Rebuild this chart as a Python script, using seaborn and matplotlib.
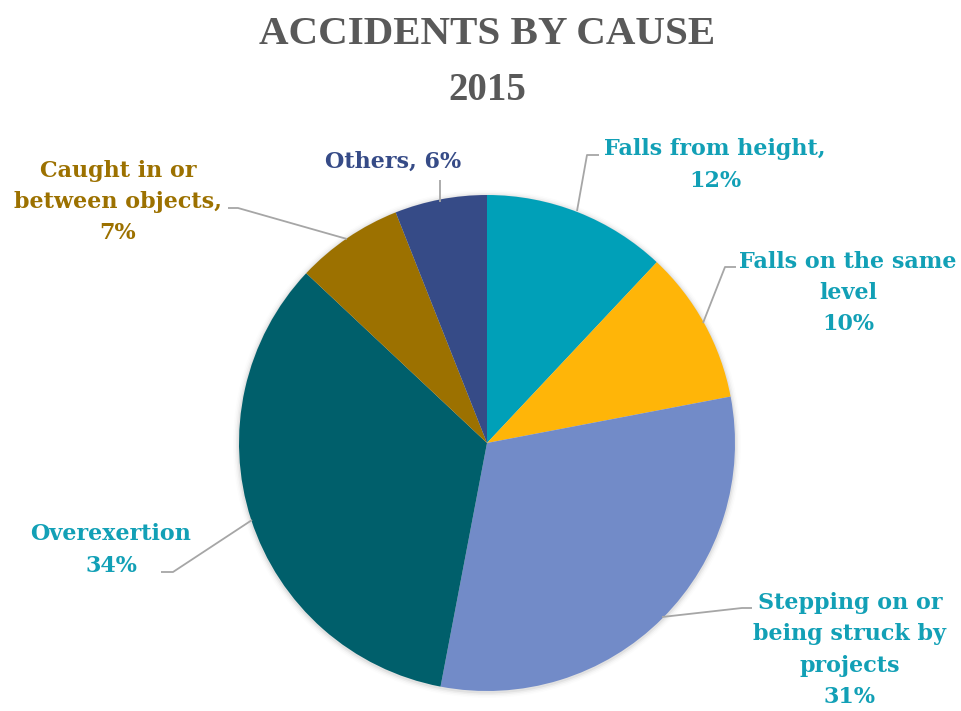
import matplotlib
matplotlib.use("Agg")
import matplotlib.pyplot as plt
import seaborn as sns
from matplotlib.patches import Circle

# Data
causes = [
    "Falls from height",
    "Falls on the same level",
    "Stepping on or being struck by projects",
    "Overexertion",
    "Caught in or between objects",
    "Others",
]
shares = [12, 10, 31, 34, 7, 6]
slice_colors = ["#00A0B8", "#FFB508", "#728BC8", "#005F6B", "#9C7100", "#364B87"]
label_texts = [
    "Falls from height,\n{}%",
    "Falls on the same\nlevel\n{}%",
    "Stepping on or\nbeing struck by\nprojects\n{}%",
    "Overexertion\n{}%",
    "Caught in or\nbetween objects,\n{}%",
    "Others, {}%",
]
label_colors = ["#12A0B6", "#12A0B6", "#12A0B6", "#12A0B6", "#9C7100", "#364B87"]

sns.set_theme(style="white")
plt.rcParams["font.family"] = ["Liberation Serif", "DejaVu Serif"]

W, H = 962, 711
fig = plt.figure(figsize=(W / 100, H / 100), dpi=100)
ax = fig.add_axes([0, 0, 1, 1])

cx, cy, r = 487, H - 443, 248
palette = sns.color_palette(slice_colors)

# soft halo around the pie
for i, a in enumerate([0.05, 0.035, 0.02, 0.01]):
    ax.add_patch(Circle((cx, cy - 1), r + 1.5 + i * 1.5, color="black", alpha=a, lw=0, zorder=0))

wedges, _ = ax.pie(
    shares,
    colors=palette,
    startangle=90,
    counterclock=False,
    center=(cx, cy),
    radius=r,
    frame=True,
    wedgeprops=dict(linewidth=0),
)
ax.set_xlim(0, W)
ax.set_ylim(0, H)
ax.set_aspect("equal")
ax.axis("off")

# label anchors (x, y from top) and leader polylines
label_pos = [(715, 165), (848, 293), (850, 650), (111, 550), (118, 202), (393, 162)]
leaders = [
    [(577, 211), (587, 155), (599, 155)],
    [(703, 323), (725, 267), (736, 267)],
    [(662, 617), (742, 608), (752, 608)],
    [(252, 520), (173, 572), (161, 572)],
    [(347, 239), (238, 208), (228, 208)],
    [(440, 202), (440, 180)],
]

for txt, val, col, (lx, ly), pts in zip(label_texts, shares, label_colors, label_pos, leaders):
    ax.text(lx, H - ly, txt.format(val), ha="center", va="center", color=col,
            fontsize=16, fontweight="bold", linespacing=1.55,
            family=["DejaVu Serif"])
    xs = [p[0] for p in pts]
    ys = [H - p[1] for p in pts]
    ax.plot(xs, ys, color="#A6A6A6", lw=1.3, solid_capstyle="butt")

ax.text(487, H - 34, "ACCIDENTS BY CAUSE", ha="center", va="center",
        color="#595959", fontsize=29.5, fontweight="bold")
ax.text(487, H - 90, "2015", ha="center", va="center",
        color="#595959", fontsize=28, fontweight="bold")

fig.savefig("out.png", dpi=100, facecolor="white")
